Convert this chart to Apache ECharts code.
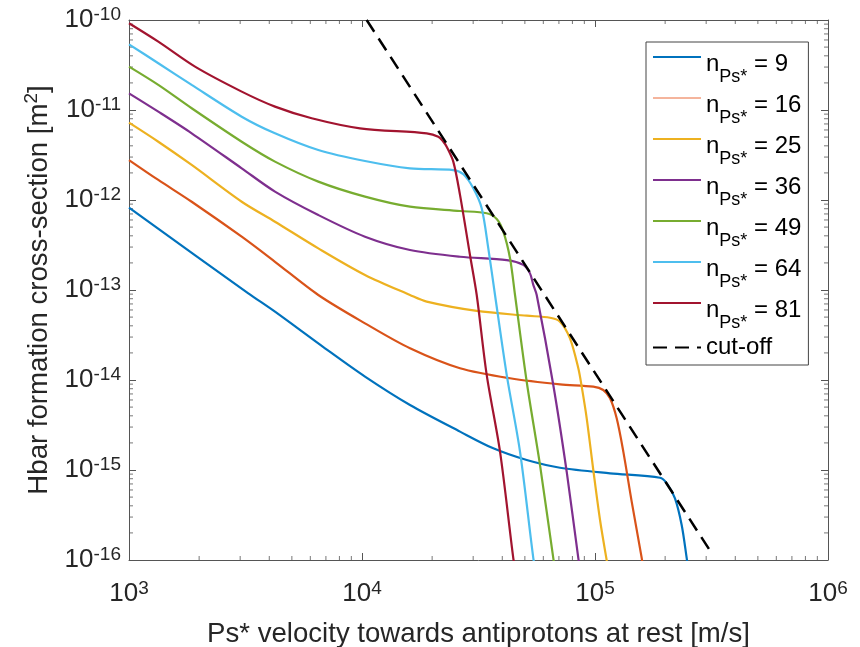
<!DOCTYPE html>
<html><head><meta charset="utf-8">
<script src="https://cdn.jsdelivr.net/npm/echarts@6/dist/echarts.min.js"></script>
<style>html,body{margin:0;padding:0;background:#fff}#c{width:860px;height:647px}</style>
</head><body><div id="c"></div>
<script>
const FONT = 'Liberation Sans, Arial, Helvetica, sans-serif';
const seriesLabels = ['9','16','25','36','49','64','81'];
const seriesColors = ['#0072BD','#D95319','#EDB120','#7E2F8E','#77AC30','#4DBEEE','#A2142F'];
const xTitle = 'Ps* velocity towards antiprotons at rest [m/s]';
const yTitle = '{t|Hbar formation cross-section [m}{p|2}{t|]}';

// [velocity m/s, cross-section m^2]
const n9 = [[1000,8.21e-13],[3251,9.19e-14],[4232,5.74e-14],[6938,2.25e-14],[10300,1.09e-14],[16069,5.27e-15],[26340,2.67e-15],[36600,1.74e-15],[50920,1.29e-15],[70770,1.06e-15],[116000,9.19e-16],[190100,8.21e-16],[203100,7.12e-16],[220400,4.85e-16],[235500,2.45e-16],[247500,1.05e-16],[251000,8e-17]];
const n16 = [[1000,2.78e-12],[1336,1.67e-12],[1858,9.57e-13],[3046,3.91e-13],[4232,2.06e-13],[6494,8.80e-14],[10300,4.26e-14],[16069,2.25e-14],[26340,1.35e-14],[43180,1.045e-14],[70770,8.95e-15],[98330,8.43e-15],[108500,7.74e-15],[116000,6.26e-15],[123900,3.75e-15],[132300,1.60e-15],[143700,4.45e-16],[158700,1.05e-16],[161000,8e-17]];
const n25 = [[1000,7.23e-12],[1336,4.44e-12],[1858,2.45e-12],[3046,9.57e-13],[4232,5.74e-13],[6494,2.90e-13],[10300,1.47e-13],[16069,8.80e-14],[18951,7.42e-14],[31070,5.85e-14],[50920,5.18e-14],[64120,4.92e-14],[70770,4.45e-14],[78100,2.90e-14],[84800,1.35e-14],[87700,8.43e-15],[92130,3.75e-15],[98330,1.0e-15],[105100,2.78e-16],[112200,1.0e-16],[114000,8e-17]];
const n36 = [[1000,1.53e-11],[1336,9.58e-12],[1858,5.51e-12],[3046,2.25e-12],[4232,1.24e-12],[6494,6.81e-13],[10300,3.91e-13],[16069,2.78e-13],[26340,2.34e-13],[41790,2.15e-13],[49240,1.90e-13],[52600,1.53e-13],[54350,1.14e-13],[56210,8.80e-14],[66220,8.80e-15],[75600,9.57e-16],[84800,1.05e-16],[86500,8e-17]];
const n49 = [[1000,3.03e-11],[1336,1.90e-11],[1858,1.045e-11],[3046,4.44e-12],[4232,2.67e-12],[6494,1.60e-12],[10300,1.09e-12],[16069,8.43e-13],[26340,7.55e-13],[34290,7.12e-13],[37860,6.15e-13],[40410,4.45e-13],[43180,2.25e-13],[45370,8.80e-14],[50920,9.57e-15],[58060,1.14e-15],[66220,1.05e-16],[67500,8e-17]];
const n64 = [[1000,5.37e-11],[1336,3.31e-11],[1858,1.90e-11],[3046,8.43e-12],[4232,5.51e-12],[6494,3.59e-12],[10300,2.71e-12],[16069,2.25e-12],[24650,2.15e-12],[27220,1.93e-12],[30040,1.35e-12],[32640,8.09e-13],[34840,2.90e-13],[37230,8.80e-14],[41790,1.14e-14],[47660,1.60e-15],[54350,1.05e-16],[55500,8e-17]];
const n81 = [[1000,9.19e-11],[1336,5.74e-11],[1920,3.03e-11],[3046,1.60e-11],[4232,1.09e-11],[6083,8.09e-12],[9804,6.26e-12],[18951,5.51e-12],[21260,5.05e-12],[22340,4.44e-12],[23090,3.91e-12],[24650,2.67e-12],[26340,1.14e-12],[29070,2.45e-13],[31070,8.80e-14],[34290,1.14e-14],[39120,1.60e-15],[44610,1.045e-16],[45500,8e-17]];
const cutoff = [[10470,1e-10],[311700,1.27e-16]];

// minor tick positions (log axes, 2..9 per decade)
const xMinorTicks = [2e3,3e3,4e3,5e3,6e3,7e3,8e3,9e3,2e4,3e4,4e4,5e4,6e4,7e4,8e4,9e4,2e5,3e5,4e5,5e5,6e5,7e5,8e5,9e5];
const yMinorTicks = [2e-16,3e-16,4e-16,5e-16,6e-16,7e-16,8e-16,9e-16,2e-15,3e-15,4e-15,5e-15,6e-15,7e-15,8e-15,9e-15,2e-14,3e-14,4e-14,5e-14,6e-14,7e-14,8e-14,9e-14,2e-13,3e-13,4e-13,5e-13,6e-13,7e-13,8e-13,9e-13,2e-12,3e-12,4e-12,5e-12,6e-12,7e-12,8e-12,9e-12,2e-11,3e-11,4e-11,5e-11,6e-11,7e-11,8e-11,9e-11];
const X_MIN = 1e3, X_MAX = 1e6, Y_MIN = 1e-16, Y_MAX = 1e-10;

const seriesData = [n9,n16,n25,n36,n49,n64,n81];
const seriesNames = seriesLabels.map(l => 'nPs* = ' + l);

const TXT = '#262626', AX = '#555';
function powLabel(v){ const e = Math.round(Math.log10(v)); return '{b|10}{e|' + e + '}'; }
const labelRich = {
  b:{fontSize:26, lineHeight:26, fontFamily:FONT, color:TXT, verticalAlign:'bottom'},
  e:{fontSize:19, lineHeight:19, fontFamily:FONT, color:TXT, verticalAlign:'bottom', padding:[0,0,9,0]}
};
function axisBase(){
  return {
    type:'log', logBase:10,
    axisLine:{show:true, onZero:false, lineStyle:{color:AX, width:1}},
    axisTick:{show:true, inside:true, length:7, lineStyle:{color:AX, width:1}},
    minorTick:{show:false},
    splitLine:{show:false}, minorSplitLine:{show:false}
  };
}
const series = seriesData.map((d,i) => ({
  type:'line', name:seriesNames[i], data:d, symbol:'none', showSymbol:false,
  smooth:0.3, clip:true,
  lineStyle:{color:seriesColors[i], width:2.2}, itemStyle:{color:seriesColors[i]}, z:2
}));
series.push({type:'line', name:'cut-off', data:cutoff, symbol:'none', showSymbol:false, clip:true,
  lineStyle:{color:'#000', width:2.5, type:[14,8]}, itemStyle:{color:'#000'}, z:3});

function tickSeries(data, size, offset){
  return {type:'scatter', data:data, symbol:'rect', symbolSize:size, symbolOffset:offset,
    itemStyle:{color:AX}, silent:true, clip:false, z:1, animation:false};
}
series.push(tickSeries(xMinorTicks.map(v => [v, Y_MIN]), [1,4], [0,-2]));
series.push(tickSeries(xMinorTicks.map(v => [v, Y_MAX]), [1,4], [0,2]));
series.push(tickSeries(yMinorTicks.map(v => [X_MIN, v]), [4,1], [2,0]));
series.push(tickSeries(yMinorTicks.map(v => [X_MAX, v]), [4,1], [-2,0]));

const chart = echarts.init(document.getElementById('c'), null, {renderer:'canvas'});
chart.setOption({
  animation:false,
  backgroundColor:'#fff',
  grid:{left:129, top:20, right:32, bottom:87, containLabel:false, outerBoundsMode:'none'},
  xAxis:[
    Object.assign(axisBase(), {min:X_MIN, max:X_MAX, position:'bottom',
      name:xTitle, nameLocation:'middle', nameGap:60,
      nameTextStyle:{fontSize:27.6, color:TXT, fontFamily:FONT},
      axisLabel:{formatter:powLabel, rich:labelRich, margin:21}}),
    Object.assign(axisBase(), {min:X_MIN, max:X_MAX, position:'top', axisLabel:{show:false}})
  ],
  yAxis:[
    Object.assign(axisBase(), {min:Y_MIN, max:Y_MAX, position:'left',
      name:yTitle, nameLocation:'middle', nameGap:73,
      nameTextStyle:{fontSize:27.6, color:TXT, fontFamily:FONT, rich:{
        t:{fontSize:27.6, lineHeight:28, verticalAlign:'bottom', fontFamily:FONT, color:TXT},
        p:{fontSize:19, lineHeight:19, verticalAlign:'bottom', padding:[0,0,12,0], fontFamily:FONT, color:TXT}
      }},
      axisLabel:{formatter:powLabel, rich:labelRich, margin:8}}),
    Object.assign(axisBase(), {min:Y_MIN, max:Y_MAX, position:'right', axisLabel:{show:false}})
  ],
  legend:{
    orient:'vertical', left:646, top:42, padding:[2,7,1,6],
    itemWidth:48, itemHeight:14, itemGap:-1,
    borderColor:'#444', borderWidth:1, backgroundColor:'#fff',
    itemStyle:{opacity:0},
    formatter:function(name){
      if(name === 'cut-off') return '{c|cut-off}';
      const v = name.split('= ')[1];
      return '{n|n}{s|Ps*}{n| = ' + v + '}';
    },
    textStyle:{fontFamily:FONT, color:'#000', rich:{
      n:{fontSize:24, lineHeight:26, padding:[8,0,0,0], verticalAlign:'top', fontFamily:FONT, color:'#000'},
      s:{fontSize:18, lineHeight:18, padding:[24,0,0,0], verticalAlign:'top', fontFamily:FONT, color:'#000'},
      c:{fontSize:24, lineHeight:26, padding:[4.5,0,4.5,0], fontFamily:FONT, color:'#000'}
    }},
    data: seriesNames.map((nm,i) => i===1 ? {name:nm, lineStyle:{width:1, color:'#EA6A3A', opacity:1}, itemStyle:{color:'#EA6A3A', opacity:0}} : nm).concat(['cut-off'])
  },
  series:series
});
</script></body></html>
